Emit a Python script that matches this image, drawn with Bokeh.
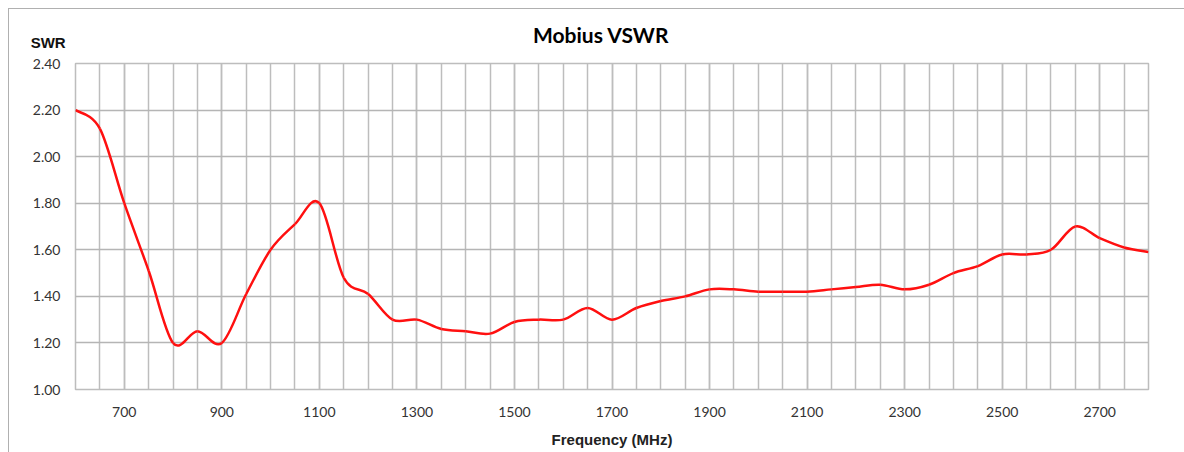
import numpy as np
from bokeh.plotting import figure
from bokeh.layouts import column
from bokeh.models import FixedTicker, Range1d, NumeralTickFormatter, ColumnDataSource, Div
from bokeh.embed import file_html
from bokeh.resources import INLINE

title_text = "Mobius VSWR"
y_title = "SWR"
x_title = "Frequency (MHz)"
freq = [600, 650, 700, 750, 800, 850, 900, 950, 1000, 1050, 1100, 1150, 1200, 1250,
        1300, 1350, 1400, 1450, 1500, 1550, 1600, 1650, 1700, 1750, 1800, 1850, 1900,
        1950, 2000, 2050, 2100, 2150, 2200, 2250, 2300, 2350, 2400, 2450, 2500, 2550,
        2600, 2650, 2700, 2750, 2800]
swr = [2.20, 2.12, 1.80, 1.51, 1.20, 1.25, 1.20, 1.41, 1.60, 1.71, 1.80, 1.48, 1.41, 1.30,
       1.30, 1.26, 1.25, 1.24, 1.29, 1.30, 1.30, 1.35, 1.30, 1.35, 1.38, 1.40, 1.43,
       1.43, 1.42, 1.42, 1.42, 1.43, 1.44, 1.45, 1.43, 1.45, 1.50, 1.53, 1.58, 1.58,
       1.60, 1.70, 1.65, 1.61, 1.59]
x_labels = [700, 900, 1100, 1300, 1500, 1700, 1900, 2100, 2300, 2500, 2700]
x_grid = list(range(600, 2801, 50))
y_ticks = [1.0, 1.2, 1.4, 1.6, 1.8, 2.0, 2.2, 2.4]

# smoothed-line rendering (Catmull-Rom as Bezier segments, like a spreadsheet "smoothed line")
X = np.array(freq, dtype=float)
Y = np.array(swr, dtype=float)
Xp = np.concatenate([[X[0]], X, [X[-1]]])
Yp = np.concatenate([[Y[0]], Y, [Y[-1]]])
n = len(X) - 1
src = ColumnDataSource(dict(
    x0=X[:-1], y0=Y[:-1], x1=X[1:], y1=Y[1:],
    cx0=X[:-1] + (Xp[2:n + 2] - Xp[0:n]) / 6.0,
    cy0=Y[:-1] + (Yp[2:n + 2] - Yp[0:n]) / 6.0,
    cx1=X[1:] - (Xp[3:n + 3] - Xp[1:n + 1]) / 6.0,
    cy1=Y[1:] - (Yp[3:n + 3] - Yp[1:n + 1]) / 6.0,
))

W = 1175
HEAD_H = 40

# ---- header (chart title and y-axis caption) ----
head_html = (
    f'<div style="position:relative;width:{W}px;height:{HEAD_H}px;">'
    f'<span style="position:absolute;left:524px;top:14.7px;line-height:1;white-space:nowrap;'
    f'font-family:Lato;font-size:21px;font-weight:bold;color:#000000;">{title_text}</span>'
    f'<span style="position:absolute;left:21.7px;top:26px;line-height:1;white-space:nowrap;'
    f'font-family:\'Liberation Sans\';font-size:15px;font-weight:bold;color:#111111;">{y_title}</span>'
    f'</div>'
)
head = Div(text=head_html, width=W, height=HEAD_H, styles={"margin": "0", "padding": "0"})

# ---- main chart ----
p = figure(width=W, height=443 - HEAD_H, output_backend="svg", toolbar_location=None,
           x_range=Range1d(600, 2800), y_range=Range1d(1.0, 2.4),
           min_border_left=66, min_border_right=36, min_border_top=14, min_border_bottom=63)

p.outline_line_color = "#bdbdbd"
p.outline_line_width = 1.5

p.xaxis.ticker = FixedTicker(ticks=x_labels, minor_ticks=x_grid)
p.yaxis.ticker = FixedTicker(ticks=y_ticks)
p.yaxis.formatter = NumeralTickFormatter(format="0.00")
for ax in (p.xaxis, p.yaxis):
    ax.axis_line_color = None
    ax.major_tick_line_color = None
    ax.minor_tick_line_color = None
    ax.major_tick_out = 0
    ax.major_tick_in = 0
    ax.minor_tick_out = 0
    ax.minor_tick_in = 0
    ax.major_label_text_font = "Lato"
    ax.major_label_text_font_size = "14px"
    ax.major_label_text_color = "#333333"
p.xaxis.major_label_standoff = 17
p.yaxis.major_label_standoff = 15

p.xaxis.axis_label = x_title
p.xaxis.axis_label_text_font = "Liberation Sans"
p.xaxis.axis_label_text_font_size = "15px"
p.xaxis.axis_label_text_font_style = "bold"
p.xaxis.axis_label_text_color = "#222222"
p.xaxis.axis_label_standoff = 11

p.xgrid.grid_line_color = "#bdbdbd"
p.xgrid.grid_line_width = 1.5
p.xgrid.minor_grid_line_color = "#bdbdbd"
p.xgrid.minor_grid_line_width = 1.5
p.ygrid.grid_line_color = "#b5b5b5"
p.ygrid.grid_line_width = 1.5

p.bezier(x0="x0", y0="y0", x1="x1", y1="y1", cx0="cx0", cy0="cy0", cx1="cx1", cy1="cy1",
         source=src, line_color="#ff1010", line_width=2.5)

layout = column(head, p, spacing=0,
                styles={"margin-left": "8px", "margin-top": "8px",
                        "border-left": "1px solid #b0b0b0", "border-top": "1px solid #b0b0b0"})

open("out.html", "w").write(file_html(layout, INLINE))
